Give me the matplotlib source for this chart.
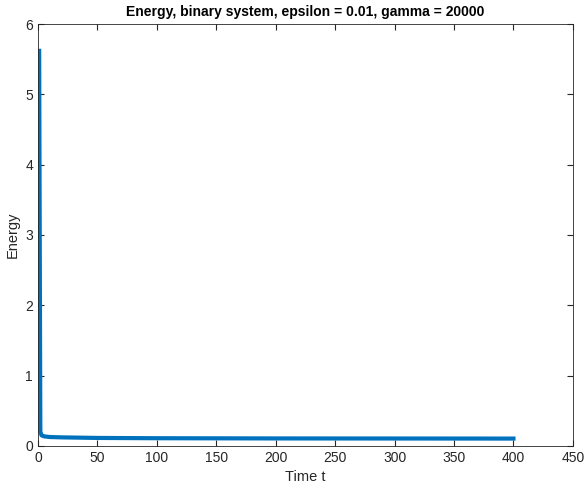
import matplotlib
matplotlib.use('Agg')
import matplotlib.pyplot as plt

plt.rcParams['font.family'] = ['Liberation Sans', 'DejaVu Sans']

# time samples and energy
t = [1, 2, 3, 5, 10, 20, 50, 100, 200, 300, 400]
energy = [5.62, 0.2, 0.15, 0.135, 0.125, 0.12, 0.112, 0.108, 0.105, 0.104, 0.103]

fig = plt.figure(figsize=(5.84, 4.83), dpi=100)
ax = fig.add_axes([0.065, 0.077, 0.916, 0.873])
ax.plot(t, energy, color='#0072BD', linewidth=3)

ax.set_xlim(0, 450)
ax.set_ylim(0, 6)
ax.set_xticks(range(0, 451, 50))
ax.set_yticks(range(0, 7))
ax.tick_params(direction='in', top=True, right=True, labelsize=10, length=4,
               color='#262626', labelcolor='#262626')
for s in ax.spines.values():
    s.set_color('#262626')
    s.set_linewidth(0.6)
ax.set_xlabel('Time t', fontsize=10.5, color='#262626')
ax.set_ylabel('Energy', fontsize=10.5, color='#262626')
ax.set_title('Energy, binary system, epsilon = 0.01, gamma = 20000', fontsize=10, fontweight='bold')

fig.savefig('out.png', dpi=100)
